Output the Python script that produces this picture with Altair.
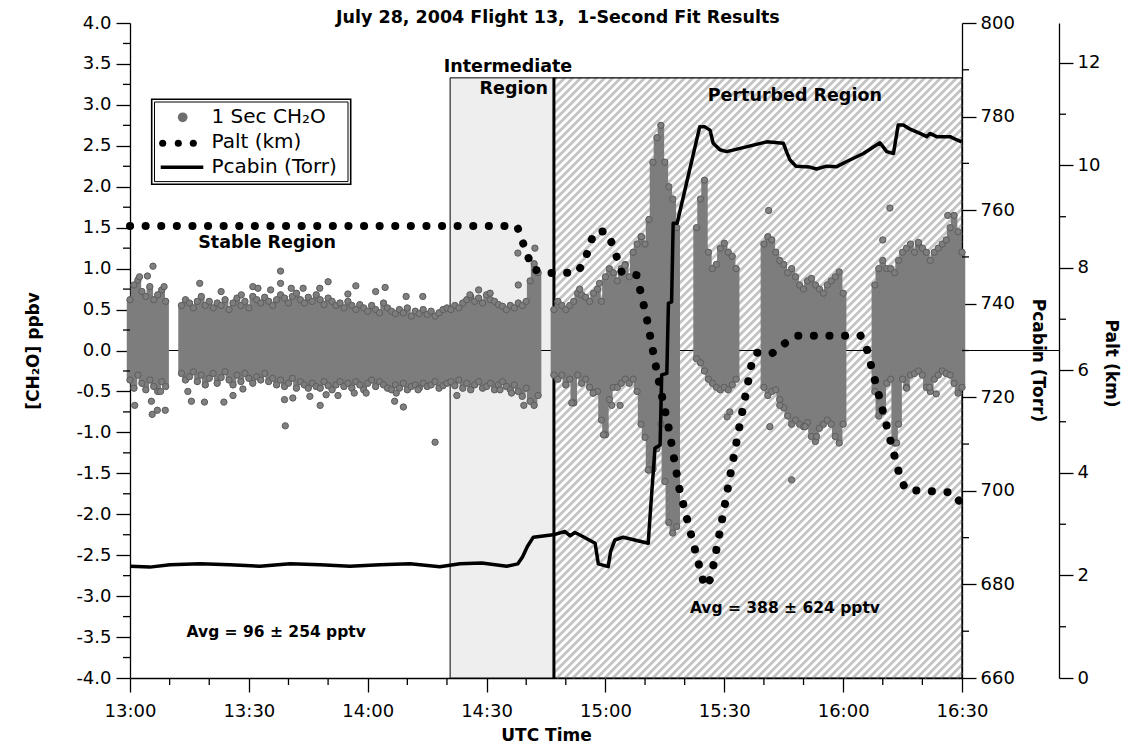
import altair as alt
import pandas as pd

W, H = 832, 655
FONT = "DejaVu Sans"

# ---------------- data ----------------
# time axis: minutes after 13:00 UTC
# 1-second CH2O cloud, summarised per minute as the dense band (low / high edge)
band_start = [0, 13, 107, 143, 160, 188]
hi_A = [0.62, 0.80, 0.86, 0.72, 0.66, 0.78, 0.62, 0.68, 0.74, 0.60]
lo_A = [-0.36, -0.46, -0.30, -0.40, -0.48, -0.36, -0.44, -0.50, -0.38, -0.44]
hi_B = [0.55, 0.62, 0.58, 0.52, 0.60, 0.66, 0.55, 0.60, 0.52, 0.58,
        0.55, 0.62, 0.50, 0.58, 0.64, 0.55, 0.60, 0.52, 0.66, 0.62,
        0.58, 0.65, 0.60, 0.55, 0.62, 0.68, 0.64, 0.58, 0.66, 0.70,
        0.62, 0.58, 0.65, 0.60, 0.68, 0.62, 0.56, 0.64, 0.60, 0.55,
        0.58, 0.52, 0.60, 0.55, 0.50, 0.56, 0.52, 0.48, 0.55, 0.50,
        0.46, 0.58, 0.52, 0.48, 0.45, 0.50, 0.46, 0.52, 0.42, 0.48,
        0.45, 0.50, 0.44, 0.48, 0.42, 0.46, 0.50, 0.52, 0.50, 0.55,
        0.52, 0.58, 0.62, 0.66, 0.60, 0.64, 0.58, 0.68, 0.62, 0.60,
        0.56, 0.54, 0.50, 0.55, 0.52, 0.58, 0.55, 0.60, 0.85, 1.06, 0.95]
lo_B = [-0.28, -0.36, -0.32, -0.26, -0.38, -0.30, -0.42, -0.34, -0.28, -0.40,
        -0.33, -0.26, -0.36, -0.42, -0.30, -0.38, -0.28, -0.34, -0.40, -0.32,
        -0.36, -0.28, -0.38, -0.34, -0.42, -0.36, -0.44, -0.40, -0.34, -0.46,
        -0.38, -0.42, -0.46, -0.40, -0.44, -0.46, -0.38, -0.43, -0.48, -0.42,
        -0.38, -0.44, -0.40, -0.46, -0.38, -0.42, -0.48, -0.40, -0.36, -0.44,
        -0.38, -0.42, -0.46, -0.48, -0.42, -0.46, -0.40, -0.48, -0.44, -0.42,
        -0.46, -0.40, -0.44, -0.42, -0.38, -0.46, -0.43, -0.40, -0.38, -0.43,
        -0.36, -0.46, -0.40, -0.48, -0.42, -0.38, -0.46, -0.44, -0.40, -0.48,
        -0.42, -0.38, -0.44, -0.48, -0.42, -0.50, -0.56, -0.46, -0.62, -0.67, -0.55]
hi_C = [0.50, 0.60, 0.55, 0.50, 0.55, 0.60, 0.70, 0.68, 0.65, 0.60,
        0.70, 0.75, 0.60, 0.90, 1.00, 0.95, 0.85, 1.00, 1.05, 0.90,
        1.20, 1.30, 1.39, 1.30, 1.60, 2.30, 2.60, 2.75, 2.30, 2.00, 1.85, 1.50]
lo_C = [-0.30, -0.35, -0.30, -0.42, -0.35, -0.64, -0.30, -0.40, -0.35, -0.45,
        -0.52, -0.50, -0.85, -1.03, -0.60, -0.45, -0.45, -0.40, -0.35, -0.40,
        -0.35, -0.50, -0.90, -1.06, -1.46, -1.45, -1.20, -0.90, -1.60, -2.10, -2.23, -2.15]
hi_D = [1.50, 1.85, 2.08, 1.20, 1.00, 1.05, 1.25, 1.31, 1.20, 1.15, 1.00]
lo_D = [-0.10, -0.15, -0.25, -0.35, -0.40, -0.45, -0.48, -0.45, -0.48, -0.42, -0.35]
hi_E = [1.30, 1.39, 1.35, 1.20, 1.10, 1.05, 0.95, 1.00, 0.90, 0.80,
        0.75, 0.85, 0.88, 0.80, 0.75, 0.70, 0.80, 0.85, 0.90, 0.96, 0.70]
lo_E = [-0.45, -0.55, -0.50, -0.48, -0.60, -0.70, -0.80, -0.90, -0.85, -0.90,
        -0.93, -0.88, -1.05, -1.11, -0.95, -0.90, -0.85, -0.90, -1.05, -1.13, -0.90]
hi_F = [0.80, 1.00, 1.10, 1.00, 1.00, 0.95, 1.10, 1.20, 1.25, 1.30,
        1.20, 1.30, 1.25, 1.20, 1.10, 1.20, 1.25, 1.30, 1.35, 1.50, 1.65, 1.45, 1.20]
lo_F = [-0.50, -0.80, -0.75, -0.40, -0.35, -1.13, -0.90, -0.35, -0.45, -0.30,
        -0.28, -0.25, -0.30, -0.45, -0.50, -0.35, -0.30, -0.25, -0.28, -0.30, -0.40, -0.52, -0.45]

# scattered single points outside the dense band
out_t = [5.8, 2.4, 4.4, 8.6, 1.2, 5.4, 5.6, 6.9, 8.9, 7.7,
         17.6, 15.5, 18.8, 23.7, 26.0, 28.5, 14.6, 31.0, 32.3, 28.1,
         38.0, 38.0, 39.2, 39.0, 41.1, 40.7, 43.7, 47.9, 50.0, 45.4,
         48.0, 49.5, 52.5, 57.0, 55.0, 59.6, 56.6, 64.4, 69.7, 66.8,
         69.0, 67.2, 73.9, 72.7, 77.0, 23.0, 35.5, 62.0,
         85.8, 90.9, 93.4, 96.3, 99.4, 97.9, 102.2, 98.0, 88.0, 82.5,
         111.5, 116.9, 119.5, 121.6, 123.7, 124.9, 129.1, 130.8, 113.5, 118.5,
         150.7, 151.4, 161.2, 161.5, 164.0, 167.0, 170.4, 173.3,
         191.8, 190.0, 193.5, 196.0, 201.8, 203.5, 206.4, 199.0]
out_v = [1.03, 0.90, 0.91, 0.78, -0.67, -0.62, -0.78, -0.73, -0.73, -0.50,
         0.82, -0.62, -0.63, -0.63, -0.55, -0.47, -0.50, 0.78, 0.76, 0.68,
         0.97, 0.82, -0.92, -0.60, -0.58, 0.76, 0.76, 0.76, 0.84, -0.56,
         -0.67, -0.54, -0.55, 0.79, 0.69, -0.52, -0.52, 0.77, 0.66, -0.62,
         -0.69, -0.52, 0.66, -0.48, -1.12, 0.72, 0.74, 0.72,
         0.68, 0.70, -0.48, -0.52, -0.67, 1.19, 1.25, 0.80, 0.74, -0.55,
         -0.64, -0.52, -1.03, -0.67, -0.67, 1.04, 1.39, -1.46, 0.75, 0.82,
         -0.81, -0.75, 1.71, -0.93, -0.67, -1.58, -0.93, -1.05,
         1.74, 1.35, -1.13, -0.46, -0.45, -0.53, 1.65, 1.32]

# aircraft altitude (km)
palt_t = [0, 97.7, 99.1, 101.6, 105.0, 112.9, 114.8, 117.1, 120.1, 121.8,
          124.1, 127.9, 130.4, 133.1, 136.1, 138.6, 141.3, 144.1, 145.1, 146.6,
          148.7, 151.3, 154.0, 156.8, 158.0, 162.0, 165.1, 168.3, 184.4, 185.9,
          188.7, 191.4, 194.3, 195.8, 207.8, 210.0]
palt_km = [8.82, 8.82, 8.51, 7.98, 7.90, 7.91, 8.15, 8.69, 8.72, 8.46,
           7.92, 7.86, 7.03, 5.93, 4.83, 3.71, 2.89, 2.06, 1.78, 1.94,
           2.78, 3.87, 4.98, 6.09, 6.35, 6.33, 6.52, 6.68, 6.68, 6.44,
           5.61, 4.79, 3.94, 3.67, 3.62, 3.37]

# cabin pressure (Torr)
pc_t = [0, 5.0, 10.1, 17.7, 25.2, 32.8, 40.4, 48.0, 55.5, 63.1,
        70.7, 78.2, 83.3, 88.8, 95.1, 97.9, 99.1, 100.3, 101.8, 106.8,
        109.8, 111.1, 112.3, 114.4, 117.4, 118.2, 120.7, 121.3, 122.4, 124.5,
        130.8, 131.2, 132.5, 133.8, 134.2, 135.5, 135.9, 136.7, 137.1, 138.1,
        143.8, 145.1, 146.4, 147.2, 148.9, 150.6, 154.0, 160.7, 164.9, 165.7,
        166.6, 168.1, 171.6, 173.3, 175.8, 178.4, 180.9, 185.1, 189.3, 191.0,
        192.7, 193.9, 195.2, 196.9, 199.4, 201.1, 201.9, 203.6, 207.0, 208.7, 209.9]
pc_torr = [683.9, 683.7, 684.2, 684.4, 684.2, 683.9, 684.4, 684.2, 683.9, 684.2,
           684.4, 683.8, 684.4, 684.6, 683.9, 684.4, 685.9, 688.1, 690.1, 690.6,
           691.3, 690.4, 691.1, 690.2, 688.8, 684.4, 683.8, 687.0, 689.5, 690.1,
           688.8, 693.8, 709.1, 709.8, 724.8, 725.1, 740.1, 740.4, 757.2, 757.2,
           777.8, 777.8, 777.1, 774.3, 772.9, 772.5, 773.2, 774.6, 774.3, 772.5,
           770.7, 769.4, 769.2, 768.8, 769.4, 769.3, 770.4, 772.1, 774.4, 772.5,
           772.1, 778.2, 778.2, 777.3, 776.4, 775.7, 776.4, 775.7, 775.7, 775.0, 774.6]

# flight-phase regions (minutes) and top of the shaded boxes (ppbv)
inter_t = [80.8, 107.0]
pert_t = [107.0, 210.0]
region_top = 3.33

# tick values
x_major = [0, 30, 60, 90, 120, 150, 180, 210]
x_minor = [10, 20, 40, 50, 70, 80, 100, 110, 130, 140, 160, 170, 190, 200]
y_major = [-4.0 + 0.5 * i for i in range(17)]
y_minor = [-3.75 + 0.5 * i for i in range(16)]
p_major = [660, 680, 700, 720, 740, 760, 780, 800]
p_minor = [670, 690, 710, 730, 750, 770, 790]
k_major = [0, 2, 4, 6, 8, 10, 12]
k_minor = [1, 3, 5, 7, 9, 11]

# ---------------- tables ----------------
band_rows = []
for start, his, los in zip(band_start, [hi_A, hi_B, hi_C, hi_D, hi_E, hi_F],
                           [lo_A, lo_B, lo_C, lo_D, lo_E, lo_F]):
    for k, (h, l) in enumerate(zip(his, los)):
        band_rows.append({"t": start + k, "v": l, "v2": h})
band_df = pd.DataFrame(band_rows)
ends_df = pd.concat([band_df[["t", "v"]],
                     band_df[["t", "v2"]].rename(columns={"v2": "v"})],
                    ignore_index=True)
out_df = pd.DataFrame({"t": out_t, "v": out_v})
palt_df = pd.DataFrame({"t": palt_t, "K": palt_km, "i": range(len(palt_t))})
pc_df = pd.DataFrame({"t": pc_t, "P": pc_torr, "i": range(len(pc_t))})


# diagonal hatching of the perturbed region (decoration)
def t_px(t):
    return t / 210.0 * W


def v_py(v):
    return (4.0 - v) / 8.0 * H


xl, xr = t_px(pert_t[0]), t_px(pert_t[1])
yt, yb = v_py(region_top), v_py(-4.0)
hatch_rows = []
c = xl + yt + 3
while c < xr + yb:
    p0 = max(xl, c - yb)
    p1 = min(xr, c - yt)
    if p1 > p0:
        hatch_rows.append({"t": p0 / W * 210, "v": 4 - (c - p0) / H * 8,
                           "t2": p1 / W * 210, "v2": 4 - (c - p1) / H * 8})
    c += 8.0
hatch_df = pd.DataFrame(hatch_rows)

xs = alt.Scale(domain=[0, 210], nice=False, zero=False)
ys = alt.Scale(domain=[-4, 4], nice=False, zero=False)
ps = alt.Scale(domain=[660, 800], nice=False, zero=False)
ks = alt.Scale(domain=[0, 12.78], nice=False, zero=False)


def XQ(f="t", axis=None):
    if axis is None:
        return alt.X(f"{f}:Q", scale=xs)
    return alt.X(f"{f}:Q", scale=xs, axis=axis)


def YQ(f="v", axis=None):
    if axis is None:
        return alt.Y(f"{f}:Q", scale=ys)
    return alt.Y(f"{f}:Q", scale=ys, axis=axis)


common_axis = dict(labelFont=FONT, labelFontSize=18, labelColor="black",
                   domainColor="black", domainWidth=1.3, tickColor="black",
                   tickWidth=1.3, tickSize=14, grid=False, labelOverlap=False,
                   titleFont=FONT, titleFontSize=17, titleFontWeight="bold",
                   titleColor="black")

x_axis = alt.Axis(orient="bottom", values=x_major, labelPadding=10,
                  labelFlush=False,
                  labelExpr="floor(13 + datum.value / 60) + ':' + (datum.value % 60 == 0 ? '00' : '30')",
                  title="UTC Time", titleX=W / 2, titleY=57,
                  titleAlign="center", titleBaseline="middle", **common_axis)
y_axis = alt.Axis(orient="left", values=y_major, labelPadding=5,
                  labelExpr="(datum.value < 0 ? '-' : '') + format(abs(datum.value), '.1f')",
                  title="[CH₂O] ppbv", titleX=-97, titleY=H / 2, titleAngle=-90,
                  titleAlign="center", titleBaseline="middle", **common_axis)
p_axis = alt.Axis(orient="right", values=p_major, labelPadding=4,
                  title="Pcabin (Torr)", titleX=75, titleY=337, titleAngle=90,
                  titleAlign="center", titleBaseline="middle", **common_axis)
k_axis = alt.Axis(orient="right", values=k_major, labelPadding=4, offset=97,
                  title="Palt  (km)", titleX=51, titleY=340, titleAngle=90,
                  titleAlign="center", titleBaseline="middle", **common_axis)

# ---------------- CH2O group ----------------
band = alt.Chart(band_df).mark_rule(
    color="#7d7d7d", strokeWidth=6.5, strokeCap="round").encode(
    x=XQ(axis=x_axis), y=YQ(axis=y_axis), y2="v2:Q")

inter = alt.Chart(pd.DataFrame({"t": [inter_t[0]], "t2": [inter_t[1]],
                                "v": [-4.0], "v2": [region_top]})).mark_rect(
    fill="#eeeeee", stroke="black", strokeWidth=1).encode(
    x=XQ(), x2="t2:Q", y=YQ(), y2="v2:Q")

hatch = alt.Chart(hatch_df).mark_rule(color="#c4c4c4", strokeWidth=2.8).encode(
    x=XQ(), x2="t2:Q", y=YQ(), y2="v2:Q")

pert_box = alt.Chart(pd.DataFrame({"t": [pert_t[0]], "t2": [pert_t[1]],
                                   "v": [-4.0], "v2": [region_top]})).mark_rect(
    fillOpacity=0, stroke="black", strokeWidth=1.2).encode(
    x=XQ(), x2="t2:Q", y=YQ(), y2="v2:Q")

pert_edge = alt.Chart(pd.DataFrame({"t": [pert_t[0]], "v": [-4.0],
                                    "v2": [region_top]})).mark_rule(
    color="black", strokeWidth=3).encode(x=XQ(), y=YQ(), y2="v2:Q")

zero = alt.Chart(pd.DataFrame({"v": [0.0]})).mark_rule(
    color="black", strokeWidth=1).encode(
    x=alt.value(0), x2=alt.value(W + 97), y=YQ())

ends = alt.Chart(ends_df).mark_circle(
    size=40, color="#7d7d7d", stroke="#5e5e5e", strokeWidth=1, opacity=1).encode(
    x=XQ(), y=YQ())

outs = alt.Chart(out_df).mark_circle(
    size=40, color="#808080", stroke="#5a5a5a", strokeWidth=1, opacity=1).encode(
    x=XQ(), y=YQ())

ann_df = pd.DataFrame({
    "t": [34.6, 95.4, 167.8],
    "v": [1.31, 3.46, 3.11],
    "label": ["Stable Region", "Intermediate", "Perturbed Region"]})
ann = alt.Chart(ann_df).mark_text(font=FONT, fontSize=17.5, fontWeight="bold",
                                  color="black", align="center",
                                  baseline="middle").encode(
    x=XQ(), y=YQ(), text="label:N")
ann_r = alt.Chart(pd.DataFrame({"t": [105.5], "v": [3.19],
                                "label": ["Region"]})).mark_text(
    font=FONT, fontSize=17.5, fontWeight="bold", color="black", align="right",
    baseline="middle").encode(x=XQ(), y=YQ(), text="label:N")
avg_df = pd.DataFrame({"t": [36.9, 165.3], "v": [-3.44, -3.14],
                       "label": ["Avg = 96 ± 254 pptv", "Avg = 388 ± 624 pptv"]})
avg = alt.Chart(avg_df).mark_text(font=FONT, fontSize=15.5, fontWeight="bold",
                                  color="black", align="center",
                                  baseline="middle").encode(
    x=XQ(), y=YQ(), text="label:N")
title = alt.Chart(pd.DataFrame({"t": [108.0], "v": [4.058],
                                "label": ["July 28, 2004 Flight 13,\u00a0 1-Second Fit Results"]})).mark_text(
    font=FONT, fontSize=17.5, fontWeight="bold", color="black", align="center",
    baseline="middle").encode(x=XQ(), y=YQ(), text="label:N")

# legend (pixel positions inside the plot area)
leg_outer = alt.Chart(pd.DataFrame({"a": [0]})).mark_rect(
    fill="white", stroke="black", strokeWidth=1.6).encode(
    x=alt.value(21.7), x2=alt.value(220.7), y=alt.value(76.3), y2=alt.value(161.3))
leg_inner = alt.Chart(pd.DataFrame({"a": [0]})).mark_rect(
    fillOpacity=0, stroke="black", strokeWidth=1).encode(
    x=alt.value(24.5), x2=alt.value(218), y=alt.value(79), y2=alt.value(158.6))
leg_circle = alt.Chart(pd.DataFrame({"a": [0]})).mark_circle(
    size=95, color="#6e6e6e", opacity=1).encode(x=alt.value(52.7), y=alt.value(94.3))
leg_dots = alt.Chart(pd.DataFrame({"px": [32.7, 48.3, 63.3]})).mark_circle(
    size=50, color="black", opacity=1).encode(
    x=alt.X("px:Q", scale=None), y=alt.value(120.3))
leg_line = alt.Chart(pd.DataFrame({"a": [0]})).mark_rule(
    color="black", strokeWidth=3.5).encode(
    x=alt.value(30.7), x2=alt.value(73.3), y=alt.value(144.3))
leg_text = alt.Chart(pd.DataFrame({
    "py": [93.7, 118.7, 144.3],
    "label": ["1 Sec CH₂O", "Palt (km)", "Pcabin (Torr)"]})).mark_text(
    font=FONT, fontSize=20, color="black", align="left", baseline="middle").encode(
    x=alt.value(81.5), y=alt.Y("py:Q", scale=None), text="label:N")

xminor = alt.Chart(pd.DataFrame({"t": x_minor})).mark_rule(
    color="black", strokeWidth=1.3).encode(
    x=XQ(), y=alt.value(H), y2=alt.value(H + 7))
yminor = alt.Chart(pd.DataFrame({"v": y_minor})).mark_rule(
    color="black", strokeWidth=1.3).encode(
    y=YQ(), x=alt.value(0), x2=alt.value(-7))

group_ch2o = alt.layer(inter, hatch, pert_box, pert_edge, zero, band, ends, outs,
                       ann, ann_r, avg, title, leg_outer, leg_inner, leg_circle,
                       leg_dots, leg_line, leg_text, xminor, yminor)

# ---------------- Pcabin group ----------------
pc_line = alt.Chart(pc_df).mark_line(color="black", strokeWidth=3.5,
                                     strokeJoin="round").encode(
    x=XQ(), y=alt.Y("P:Q", scale=ps, axis=p_axis), order="i:Q")
pminor = alt.Chart(pd.DataFrame({"P": p_minor})).mark_rule(
    color="black", strokeWidth=1.3).encode(
    y=alt.Y("P:Q", scale=ps), x=alt.value(W), x2=alt.value(W + 7))
group_pc = alt.layer(pc_line, pminor)

# ---------------- Palt group ----------------
palt_line = alt.Chart(palt_df).mark_line(
    color="black", strokeWidth=8, strokeDash=[0.1, 15.5], strokeCap="round").encode(
    x=XQ(), y=alt.Y("K:Q", scale=ks, axis=k_axis), order="i:Q")
kminor = alt.Chart(pd.DataFrame({"K": k_minor})).mark_rule(
    color="black", strokeWidth=1.3).encode(
    y=alt.Y("K:Q", scale=ks), x=alt.value(W + 97), x2=alt.value(W + 104))
group_k = alt.layer(palt_line, kminor)

chart = alt.layer(group_ch2o, group_pc, group_k).resolve_scale(
    y="independent").properties(
    width=W, height=H,
    padding={"left": 122, "top": 15, "right": 159, "bottom": 65},
    autosize=alt.AutoSizeParams(type="none"),
    background="white").configure_view(stroke=None)

chart.save("out.html", embed_options={"renderer": "svg", "actions": False})
